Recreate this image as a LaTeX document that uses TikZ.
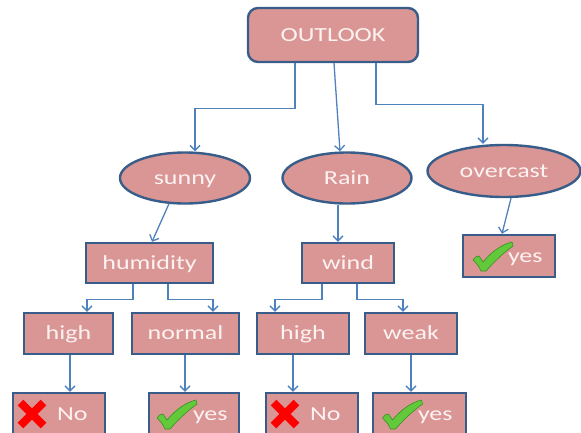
\documentclass[tikz,border=0pt]{standalone}
\usepackage{fontspec}
\setmainfont{Carlito}[FakeStretch=1.3]
\usetikzlibrary{shapes.geometric,arrows.meta,calc}
\definecolor{boxfill}{HTML}{D99694}
\definecolor{boxline}{HTML}{385D8A}
\definecolor{arrcol}{HTML}{4F81BD}
\definecolor{txtcol}{HTML}{FDF2F2}
\definecolor{chk}{HTML}{62C93A}
\definecolor{chkdark}{HTML}{3A8F25}
\definecolor{crs}{HTML}{FF0000}
\tikzset{
  base/.style={fill=boxfill,draw=boxline,line width=2.4pt,text=txtcol,
    font=\fontsize{20}{22}\selectfont,inner sep=0pt,text height=15pt,text depth=3pt},
  rbox/.style={base,rectangle,minimum height=41pt},
  ebox/.style={base,ellipse,minimum height=51pt},
  leafbox/.style={base,rectangle,minimum height=42pt,inner xsep=0pt,align=left},
  arr/.style={draw=arrcol,line width=1.3pt,-{Straight Barb[length=5pt,width=10pt]}},
  checkmark/.pic={
    \fill[chk,draw=chkdark,line width=0.6pt,line join=round]
      (-20,3) .. controls (-18,0) and (-16,-1) .. (-14,-1)
      -- (-10,5) .. controls (-1,-6) and (10,-13) .. (19,-15)
      -- (20,-11) .. controls (9,-3) and (0,6) .. (-7,14)
      -- (-12,14) .. controls (-14,9) and (-17,6) .. (-20,3) -- cycle;
  },
  crossmark/.pic={
    \draw[crs,line width=8pt] (-11.5,-11.5) -- (11.5,11.5);
    \draw[crs,line width=8pt] (-11.5,11.5) -- (11.5,-11.5);
  }
}
\begin{document}
\begin{tikzpicture}[x=1pt,y=-1pt]
\useasboundingbox (0,0) rectangle (581,432);
\clip (0,0) rectangle (581,432);

% nodes
\node[base,rectangle,rounded corners=10pt,minimum width=170pt,minimum height=54pt] (out) at (333,35) {OUTLOOK};
\node[ebox,minimum width=130pt] (sunny) at (185,178) {sunny};
\node[ebox,minimum width=129pt] (rain) at (347,178) {Rain};
\node[ebox,minimum width=153pt,minimum height=52pt] (over) at (504,171) {overcast};

\node[rbox,minimum width=127pt,minimum height=40pt] (hum) at (149.5,263) {humidity};
\node[rbox,minimum width=92pt,minimum height=40pt] (wind) at (348,263) {wind};

\node[rbox,minimum width=89pt] (h1) at (68.5,333.5) {high};
\node[rbox,minimum width=107pt] (norm) at (185.5,333.5) {normal};
\node[rbox,minimum width=92pt] (h2) at (303,333.5) {high};
\node[rbox,minimum width=92pt] (weak) at (411,333.5) {weak};

\node[leafbox,text width=92pt] (yes3) at (509,256) {\hspace*{45pt}yes};
\node[leafbox,text width=92pt] (no1) at (59,414) {\hspace*{44pt}No};
\node[leafbox,text width=90pt] (yes1) at (194,414) {\hspace*{44pt}yes};
\node[leafbox,text width=92pt] (no2) at (312,414) {\hspace*{44pt}No};
\node[leafbox,text width=93pt] (yes2) at (419.5,414) {\hspace*{45pt}yes};

% icons
\pic at ([xshift=-16pt,yshift=-1pt]yes3.center) {checkmark};
\pic at ([xshift=-17pt,yshift=-1pt]yes1.center) {checkmark};
\pic at ([xshift=-17pt,yshift=-1pt]yes2.center) {checkmark};
\pic at ([xshift=-27pt,yshift=0pt]no1.center) {crossmark};
\pic at ([xshift=-27pt,yshift=0pt]no2.center) {crossmark};

% connectors
\draw[arr] ([xshift=-38pt]out.south) -- ++(0,45) -| ([xshift=10pt]sunny.north);
\draw[arr] ([xshift=1pt]out.south) -- ([xshift=-7pt]rain.north);
\draw[arr] ([xshift=43pt]out.south) -- ++(0,41) -| ([xshift=-21pt]over.north);

\draw[arr] ([xshift=-16pt,yshift=1pt]sunny.south) -- ([xshift=2.5pt]hum.north);
\draw[arr] ([xshift=-9pt]rain.south) coordinate (rw) -- (rw |- wind.north);
\draw[arr] ([xshift=7pt]over.south) -- ([xshift=-7pt]yes3.north);

\draw[arr] ([xshift=-16.5pt]hum.south) -- ++(0,15) -| ([xshift=18.5pt]h1.north);
\draw[arr] ([xshift=18.5pt]hum.south) -- ++(0,15) -| ([xshift=27.5pt]norm.north);
\draw[arr] ([xshift=-26pt]wind.south) -- ++(0,15) -| ([xshift=-28pt]h2.north);
\draw[arr] ([xshift=9pt]wind.south) -- ++(0,15) -| ([xshift=-8pt]weak.north);

\draw[arr] ([xshift=1.5pt]h1.south) coordinate (a1) -- (a1 |- no1.north);
\draw[arr] ([xshift=-0.5pt]norm.south) coordinate (a2) -- (a2 |- yes1.north);
\draw[arr] ([xshift=-10pt]h2.south) coordinate (a3) -- (a3 |- no2.north);
\draw[arr] (weak.south) coordinate (a4) -- (a4 |- yes2.north);
\end{tikzpicture}
\end{document}
